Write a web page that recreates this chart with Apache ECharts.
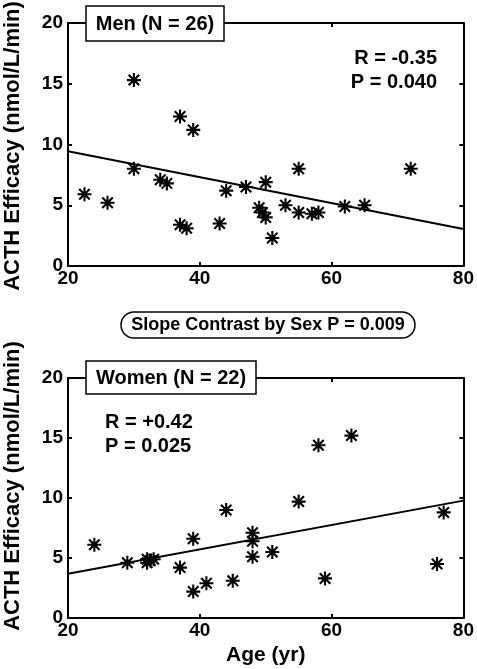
<!DOCTYPE html>
<html><head><meta charset="utf-8">
<script src="https://cdn.jsdelivr.net/npm/echarts@6/dist/echarts.min.js"></script>
<style>html,body{margin:0;padding:0;background:#fff}#c{width:477px;height:669px}</style>
</head><body><div id="c"></div>
<script>
const menAge = [22.5, 26, 30, 30, 34, 35, 37, 39, 37, 38, 43, 44, 47, 49, 49.5, 50, 50, 51, 53, 55, 55, 57, 58, 62, 65, 72];
const menEff = [5.9, 5.2, 15.3, 8.0, 7.1, 6.8, 12.3, 11.2, 3.4, 3.1, 3.5, 6.2, 6.5, 4.8, 4.4, 6.9, 4.0, 2.3, 5.0, 8.0, 4.4, 4.3, 4.4, 4.9, 5.0, 8.0];
const womenAge = [24, 29, 32, 32, 32.5, 33, 37, 39, 39, 41, 44, 45, 48, 48, 48, 51, 55, 58, 59, 63, 76, 77];
const womenEff = [6.1, 4.6, 4.9, 4.6, 4.8, 4.9, 4.2, 6.6, 2.2, 2.9, 9.0, 3.1, 7.1, 6.4, 5.1, 5.5, 9.7, 14.4, 3.3, 15.2, 4.5, 8.8];
const fitAge = [20, 80];
const menFit = [9.44, 3.05];
const womenFit = [3.68, 9.78];
const xTicks = [20, 40, 60, 80];
const yTicks = [0, 5, 10, 15, 20];

const FONT = '"Liberation Sans", Arial, sans-serif';
const star = 'path://M8.5 0 L11.5 0 L11.5 20 L8.5 20 Z M0 8.5 L20 8.5 L20 11.5 L0 11.5 Z ' +
  'M3.56 1.44 L18.56 16.44 L16.44 18.56 L1.44 3.56 Z M1.44 16.44 L16.44 1.44 L18.56 3.56 L3.56 18.56 Z';
const zip = (a, b) => a.map((v, i) => [v, b[i]]);

function xAx(gi, bottom) {
  return {
    gridIndex: gi, type: 'value', min: xTicks[0], max: xTicks[xTicks.length - 1], interval: 20,
    position: bottom ? 'bottom' : 'top',
    axisLine: {show: true, onZero: false, lineStyle: {color: '#000', width: 2}},
    axisTick: {show: true, inside: true, length: 4, lineStyle: {color: '#000', width: 2}},
    axisLabel: {show: bottom, color: '#000', fontFamily: FONT, fontWeight: 'bold', fontSize: 19, margin: 3},
    splitLine: {show: false},
    name: (bottom && gi === 1) ? 'Age (yr)' : '',
    nameLocation: 'middle', nameGap: 27,
    nameTextStyle: {color: '#000', fontFamily: FONT, fontWeight: 'bold', fontSize: 21}
  };
}
function yAx(gi, left) {
  return {
    gridIndex: gi, type: 'value', min: yTicks[0], max: yTicks[yTicks.length - 1], interval: 5,
    position: left ? 'left' : 'right',
    axisLine: {show: true, onZero: false, lineStyle: {color: '#000', width: 2}},
    axisTick: {show: true, inside: true, length: 4, lineStyle: {color: '#000', width: 2}},
    axisLabel: {show: left, color: '#000', fontFamily: FONT, fontWeight: 'bold', fontSize: 19, margin: 5},
    splitLine: {show: false}
  };
}
function scat(xi, yi, data) {
  return {type: 'scatter', xAxisIndex: xi, yAxisIndex: yi, data: data, symbol: star, symbolSize: 14,
    itemStyle: {color: '#000', opacity: 1}, silent: true, z: 3};
}
function fit(xi, yi, data) {
  return {type: 'line', xAxisIndex: xi, yAxisIndex: yi, data: data, showSymbol: false, symbol: 'none',
    lineStyle: {color: '#000', width: 2}, silent: true, z: 2};
}
function txt(x, y, s, align, size, rot) {
  return {type: 'text', x: x, y: y, z: 20, rotation: rot || 0, style: {text: s, fill: '#000', font: 'bold ' + (size || 20) + 'px ' + FONT,
    textAlign: align || 'left', textVerticalAlign: 'middle'}};
}

const chart = echarts.init(document.getElementById('c'), null, {renderer: 'canvas'});
chart.setOption({
  animation: false,
  backgroundColor: '#fff',
  grid: [
    {left: 68, top: 23, width: 398, height: 243},
    {left: 68, top: 378, width: 398, height: 240}
  ],
  xAxis: [xAx(0, true), xAx(0, false), xAx(1, true), xAx(1, false)],
  yAxis: [yAx(0, true), yAx(0, false), yAx(1, true), yAx(1, false)],
  series: [
    fit(0, 0, zip(fitAge, menFit)),
    scat(0, 0, zip(menAge, menEff)),
    fit(2, 2, zip(fitAge, womenFit)),
    scat(2, 2, zip(womenAge, womenEff))
  ],
  graphic: [
    txt(13, 146, 'ACTH Efficacy (nmol/L/min)', 'center', 22, Math.PI / 2),
    txt(13, 486, 'ACTH Efficacy (nmol/L/min)', 'center', 22, Math.PI / 2),
    {type: 'rect', z: 19, shape: {x: 86, y: 6, width: 138, height: 35}, style: {fill: '#fff', stroke: '#000', lineWidth: 1.5}},
    txt(155, 24, 'Men (N = 26)', 'center'),
    txt(437, 58, 'R = -0.35', 'right'),
    txt(437, 82, 'P = 0.040', 'right'),
    {type: 'rect', z: 19, shape: {x: 121, y: 312, width: 294, height: 26, r: 13}, style: {fill: '#fff', stroke: '#000', lineWidth: 1.5}},
    txt(268, 325, 'Slope Contrast by Sex P = 0.009', 'center', 18),
    {type: 'rect', z: 19, shape: {x: 86, y: 361, width: 170, height: 33}, style: {fill: '#fff', stroke: '#000', lineWidth: 1.5}},
    txt(171, 378, 'Women (N = 22)', 'center'),
    txt(105, 422, 'R = +0.42', 'left'),
    txt(105, 446, 'P = 0.025', 'left')
  ]
});
</script></body></html>
